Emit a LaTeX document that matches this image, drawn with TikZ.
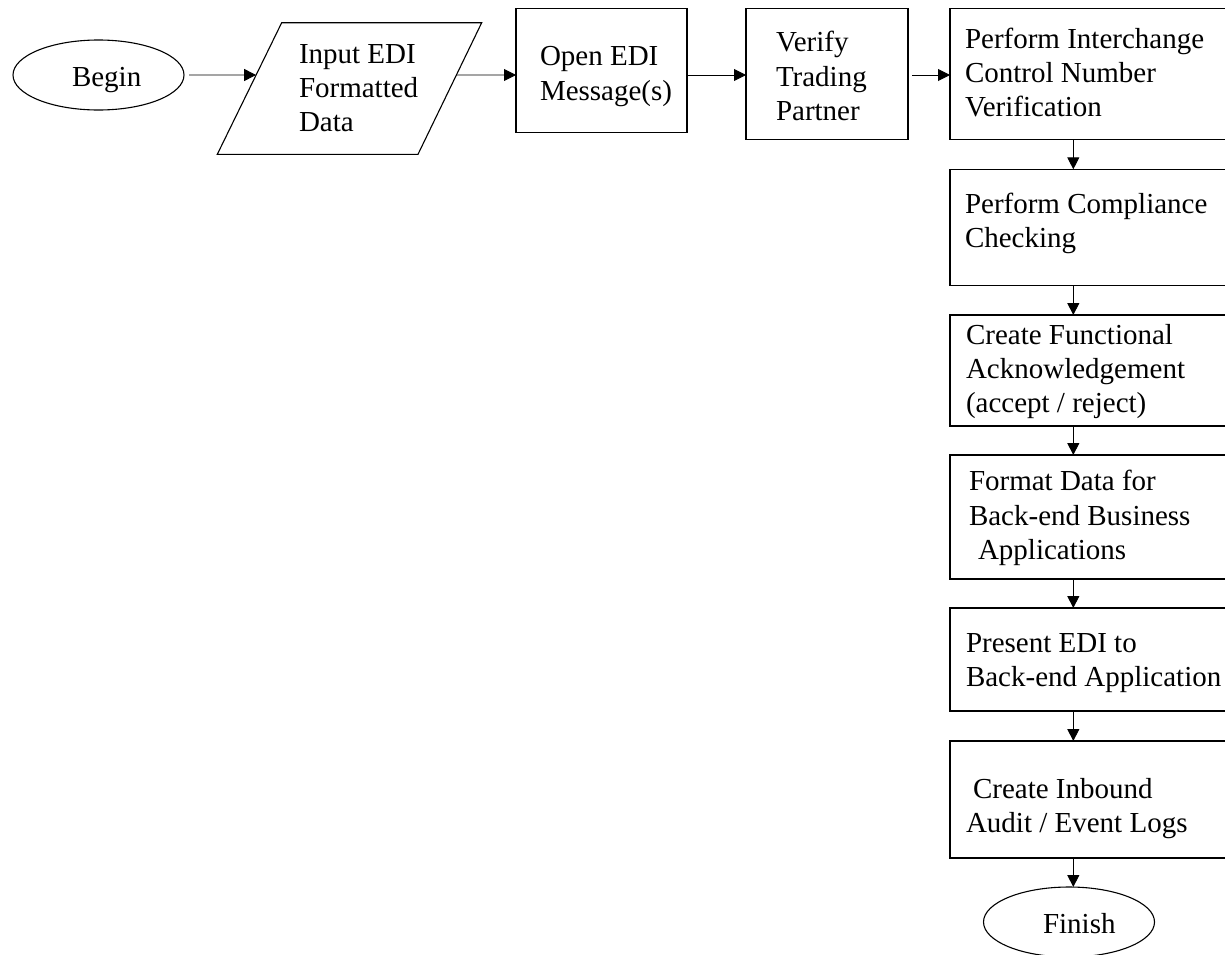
\documentclass[tikz,border=0pt]{standalone}
\usepackage{fontspec}
\setmainfont{Liberation Serif}
\usetikzlibrary{calc,shapes.geometric,arrows.meta}

\begin{document}
\begin{tikzpicture}[x=1pt,y=-1pt,
  every node/.style={inner sep=0pt, outer sep=0pt},
  shapeline/.style={draw, line width=1.1pt},
  procbox/.style={shapeline, rectangle},
  colbox/.style={procbox, minimum width=350pt},
  terminal/.style={shapeline, ellipse, minimum width=171pt, minimum height=70pt},
  % labels are placed by the baseline of their last line
  txt/.style={anchor=base west, align=left, font=\fontsize{29}{34.3}\selectfont},
  flow/.style={line width=0.9pt, -{Triangle[length=12pt,width=12pt]}}
]
\clip (0,0) rectangle (1225,954);

% shapes
\node[terminal] (begin) at (98.5,75) {};
\draw[shapeline, line join=miter]
  (281.7,22.7) coordinate (inTL) -- (481.7,22.7) coordinate (inTR)
  -- (418,154.3) coordinate (inBR) -- (217.3,154.3) coordinate (inBL) -- cycle;
\coordinate (inL) at ($(inBL)!0.6026!(inTL)$);
\coordinate (inR) at ($(inBR)!0.6026!(inTR)$);
\node[procbox, minimum width=171pt, minimum height=124pt] (open) at (601.5,70.3) {};
\node[procbox, minimum width=162pt, minimum height=131pt] (verify) at (827,73.8) {};
\node[colbox, minimum height=131pt] (interchange) at (1125,73.8) {};
\node[colbox, minimum height=116.4pt] (compliance) at (1125,227.5) {};
\node[colbox, minimum height=111pt] (ack) at (1125,370.5) {};
\node[colbox, minimum height=124pt] (format) at (1125,517) {};
\node[colbox, minimum height=103pt] (present) at (1125,659.5) {};
\node[colbox, minimum height=117pt] (inbound) at (1125,799.5) {};
\node[terminal] (finish) at (1069,922) {};

% labels
\node[txt] (tBegin) at (72,86) {Begin};
\node[txt] (tInput) at (299,131.9) {Input EDI\\Formatted\\Data};
\node[txt] (tOpen) at (540,100) {Open EDI\\Message(s)};
\node[txt] (tVerify) at (776,120.3) {Verify\\Trading\\Partner};
\node[txt] (tInterchange) at (965,116.9) {Perform Interchange\\Control Number\\Verification};
\node[txt] (tCompliance) at (965,247.6) {Perform Compliance\\Checking};
\node[txt] (tAck) at (966,412.9) {Create Functional\\Acknowledgement\\(accept / reject)};
\node[txt] (tFormat) at (969,559.3) {Format Data for\\Back-end Business\\\hspace*{9pt}Applications};
\node[txt] (tPresent) at (966,686.3) {Present EDI to\\Back-end Application};
\node[txt] (tInbound) at (966,832.3) {\hspace*{7pt}Create Inbound\\Audit / Event Logs};
\node[txt] (tFinish) at (1043,933) {Finish};

% connectors
\coordinate (row) at (0,75);
\coordinate (col) at (1073.3,0);
\draw[flow, shorten <=5pt] (begin.east) -- (inL);
\draw[flow] (inR) -- (open.west |- row);
\draw[flow] (open.east |- row) -- (verify.west |- row);
\draw[flow, shorten <=4pt] (verify.east |- row) -- (interchange.west |- row);
\draw[flow] (interchange.south -| col) -- (compliance.north -| col);
\draw[flow] (compliance.south -| col) -- (ack.north -| col);
\draw[flow] (ack.south -| col) -- (format.north -| col);
\draw[flow] (format.south -| col) -- (present.north -| col);
\draw[flow] (present.south -| col) -- (inbound.north -| col);
\draw[flow] (inbound.south -| col) -- (finish.north -| col);
\end{tikzpicture}
\end{document}
